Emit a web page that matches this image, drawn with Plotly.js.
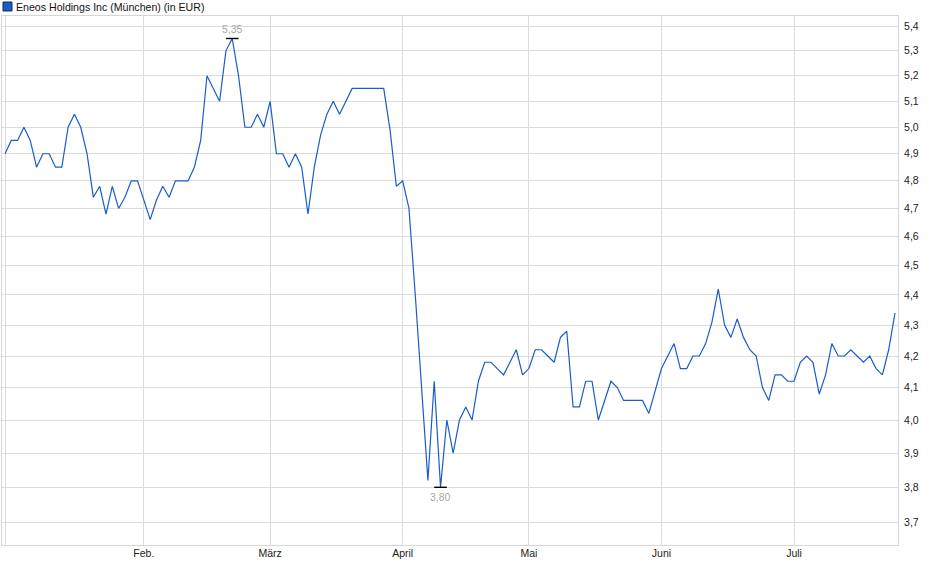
<!DOCTYPE html>
<html>
<head>
<meta charset="utf-8">
<script src="https://cdn.plot.ly/plotly-3.0.1.min.js"></script>
<style>
  html, body { margin: 0; padding: 0; background: #fff; }
  #plotly { width: 940px; height: 579px; }
</style>
</head>
<body>
<div id="plotly"></div>
<script>
// daily closes, one per trading day (2 Jan .. 23 Jul)
var prices = [
  4.90, 4.95, 4.95, 5.00, 4.95, 4.85, 4.90, 4.90, 4.85, 4.85,
  5.00, 5.05, 5.00, 4.90, 4.74, 4.78, 4.68, 4.78, 4.70, 4.74,
  4.80, 4.80, 4.73, 4.66, 4.73, 4.78, 4.74, 4.80, 4.80, 4.80,
  4.85, 4.95, 5.20, 5.15, 5.10, 5.30, 5.35, 5.20, 5.00, 5.00,
  5.05, 5.00, 5.10, 4.90, 4.90, 4.85, 4.90, 4.85, 4.68, 4.85,
  4.97, 5.05, 5.10, 5.05, 5.10, 5.15, 5.15, 5.15, 5.15, 5.15,
  5.15, 4.99, 4.78, 4.80, 4.70, 4.40, 4.11, 3.82, 4.12, 3.80,
  4.00, 3.90, 4.00, 4.04, 4.00, 4.12, 4.18, 4.18, 4.16, 4.14,
  4.18, 4.22, 4.14, 4.16, 4.22, 4.22, 4.20, 4.18, 4.26, 4.28,
  4.04, 4.04, 4.12, 4.12, 4.00, 4.06, 4.12, 4.10, 4.06, 4.06,
  4.06, 4.06, 4.02, 4.09, 4.16, 4.20, 4.24, 4.16, 4.16, 4.20,
  4.20, 4.24, 4.31, 4.42, 4.30, 4.26, 4.32, 4.26, 4.22, 4.20,
  4.10, 4.06, 4.14, 4.14, 4.12, 4.12, 4.18, 4.20, 4.18, 4.08,
  4.14, 4.24, 4.20, 4.20, 4.22, 4.20, 4.18, 4.20, 4.16, 4.14,
  4.22, 4.34
];

// index of first trading day of each month
var monthTickIdx = [22, 42, 63, 83, 104, 125];
var monthLabels  = ['Feb.', 'März', 'April', 'Mai', 'Juni', 'Juli'];

var yTickVals = [3.7, 3.8, 3.9, 4.0, 4.1, 4.2, 4.3, 4.4, 4.5, 4.6, 4.7, 4.8, 4.9, 5.0, 5.1, 5.2, 5.3, 5.4];

var seriesName = 'Eneos Holdings Inc (München) (in EUR)';

function deNum(v, d) { return v.toFixed(d).replace('.', ','); }

function plotChart() {
  var idx = prices.map(function (p, i) { return i; });

  var hi = prices.indexOf(Math.max.apply(null, prices));
  var lo = prices.indexOf(Math.min.apply(null, prices));

  var line = {
    x: idx, y: prices,
    type: 'scatter', mode: 'lines',
    line: {color: '#1a5cc8', width: 1.2},
    hoverinfo: 'skip'
  };

  // little black bars on high / low
  var extremes = {
    x: [hi, lo], y: [prices[hi], prices[lo]],
    type: 'scatter', mode: 'markers',
    marker: {symbol: 'line-ew', size: 9, color: '#000', line: {color: '#000', width: 1.4}},
    hoverinfo: 'skip'
  };

  var grid = '#dcdcdc';

  var layout = {
    width: 940, height: 579,
    margin: {l: 2, r: 42, t: 16, b: 34},
    paper_bgcolor: '#fff', plot_bgcolor: '#fff',
    showlegend: false,
    font: {family: 'Liberation Sans, Arial, sans-serif', size: 10.5, color: '#222'},
    xaxis: {
      range: [-0.475, 141.475],
      tickmode: 'array',
      tickvals: [0].concat(monthTickIdx),
      ticktext: [''].concat(monthLabels),
      showgrid: true, gridcolor: grid, gridwidth: 1,
      ticks: '', ticklabelstandoff: -2,
      showline: true, linecolor: '#d6d6d6', mirror: true,
      zeroline: false
    },
    yaxis: {
      type: 'log', side: 'right',
      range: [Math.log10(3.6365), Math.log10(5.4425)],
      tickmode: 'array',
      tickvals: yTickVals,
      ticktext: yTickVals.map(function (v) { return deNum(v, 1); }),
      showgrid: true, gridcolor: grid, gridwidth: 1,
      ticks: '', ticklabelstandoff: 3,
      showline: true, linecolor: '#d6d6d6', mirror: true,
      zeroline: false
    },
    shapes: [{
      type: 'rect', xref: 'paper', yref: 'paper',
      xsizemode: 'pixel', ysizemode: 'pixel',
      xanchor: 0, yanchor: 1,
      x0: 1, x1: 10, y0: 5, y1: 14,
      fillcolor: '#1a5cc8', line: {color: '#1b2b4b', width: 1}
    }],
    annotations: [{
      xref: 'paper', yref: 'paper', x: 0, y: 1,
      xanchor: 'left', yanchor: 'middle',
      xshift: 12, yshift: 9.5,
      showarrow: false,
      text: seriesName,
      font: {size: 10.6, color: '#111'}
    }, {
      x: hi, y: Math.log10(prices[hi]),
      xanchor: 'center', yanchor: 'middle', yshift: 9,
      showarrow: false,
      text: deNum(prices[hi], 2),
      font: {size: 10.5, color: '#a8a8a8'}
    }, {
      x: lo, y: Math.log10(prices[lo]),
      xanchor: 'center', yanchor: 'middle', yshift: -10,
      showarrow: false,
      text: deNum(prices[lo], 2),
      font: {size: 10.5, color: '#a8a8a8'}
    }]
  };

  Plotly.newPlot('plotly', [line, extremes], layout, {staticPlot: true, displayModeBar: false});
}

plotChart();
</script>
</body>
</html>
